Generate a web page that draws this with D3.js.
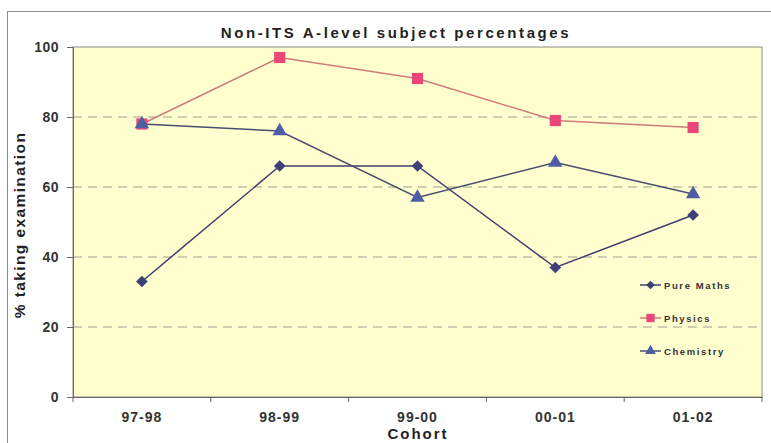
<!DOCTYPE html>
<html>
<head>
<meta charset="utf-8">
<script src="https://cdn.jsdelivr.net/npm/d3@7"></script>
<style>
  html, body { margin: 0; padding: 0; background: #fff; }
  svg { display: block; font-family: Arial, "Liberation Sans", sans-serif; }
</style>
</head>
<body>
<svg id="chart" width="771" height="443"></svg>
<script>
// Cohorts along the x axis
const cohorts = ["97-98", "98-99", "99-00", "00-01", "01-02"];
// Percentage of non-ITS students taking each A-level subject
const pureMaths = [33, 66, 66, 37, 52];
const physics = [78, 97, 91, 79, 77];
const chemistry = [78, 76, 57, 67, 58];
const yTicks = [0, 20, 40, 60, 80, 100];

const series = [
  { name: "Pure Maths", values: pureMaths, line: "#3f3f6e", fill: "#3f3f7a", symbol: d3.symbolSquare, size: 68, rotate: 45 },
  { name: "Physics", values: physics, line: "#cf7b78", fill: "#ea4778", symbol: d3.symbolSquare, size: 125, rotate: 0 },
  { name: "Chemistry", values: chemistry, line: "#4a4e72", fill: "#4f5da4", symbol: d3.symbolTriangle, size: 90, rotate: 0 }
];

const svg = d3.select("#chart");
const plot = { left: 73, right: 762, top: 47, bottom: 397 };

// Outer chart frame
svg.append("rect")
  .attr("x", 7.5).attr("y", 11.5)
  .attr("width", 775).attr("height", 450)
  .attr("fill", "#fff").attr("stroke", "#8a8a8a").attr("stroke-width", 1);

const x = d3.scaleBand().domain(cohorts).range([plot.left, plot.right]);
const y = d3.scaleLinear().domain([0, 100]).range([plot.bottom, plot.top]);

// Plot area
svg.append("rect")
  .attr("x", plot.left).attr("y", plot.top)
  .attr("width", plot.right - plot.left).attr("height", plot.bottom - plot.top)
  .attr("fill", "#fefecf").attr("stroke", "#8c8c8c").attr("stroke-width", 1);

// Dashed horizontal gridlines
svg.append("g").selectAll("line")
  .data(yTicks.filter(t => t > 0 && t < 100))
  .join("line")
  .attr("x1", plot.left).attr("x2", plot.right)
  .attr("y1", d => y(d)).attr("y2", d => y(d))
  .attr("stroke", "#a0a090").attr("stroke-width", 1)
  .attr("stroke-dasharray", "9,6");

// Y axis
const yAxis = svg.append("g")
  .attr("transform", `translate(${plot.left},0)`)
  .call(d3.axisLeft(y).tickValues(yTicks).tickSize(6).tickPadding(8));
yAxis.select(".domain").attr("stroke", "#666");
yAxis.selectAll(".tick line").attr("stroke", "#666");
yAxis.selectAll("text")
  .attr("font-size", 14).attr("font-weight", "bold").attr("fill", "#333")
  .attr("letter-spacing", "0.5px")
  .attr("font-family", "Arial, 'Liberation Sans', sans-serif");

// X axis with ticks at the band boundaries
const xAxis = svg.append("g")
  .attr("transform", `translate(0,${plot.bottom})`)
  .call(d3.axisBottom(x).tickSize(0).tickPadding(15));
xAxis.select(".domain").attr("stroke", "#666");
xAxis.selectAll("text")
  .attr("font-size", 14).attr("font-weight", "bold").attr("fill", "#333")
  .attr("letter-spacing", "1px")
  .attr("font-family", "Arial, 'Liberation Sans', sans-serif");
const bounds = cohorts.map(c => x(c)).concat([x.range()[1]]);
svg.append("g").selectAll("line")
  .data(bounds)
  .join("line")
  .attr("x1", d => d).attr("x2", d => d)
  .attr("y1", plot.bottom).attr("y2", plot.bottom + 5)
  .attr("stroke", "#666");

const cx = c => x(c) + x.bandwidth() / 2;
const line = d3.line().x((d, i) => cx(cohorts[i])).y(d => y(d));

// Series lines and markers
series.forEach(s => {
  svg.append("path")
    .datum(s.values)
    .attr("d", line)
    .attr("fill", "none")
    .attr("stroke", s.line)
    .attr("stroke-width", 1.5);
});
series.forEach(s => {
  svg.append("g").selectAll("path")
    .data(s.values)
    .join("path")
    .attr("transform", (d, i) => `translate(${cx(cohorts[i])},${y(d)}) rotate(${s.rotate})`)
    .attr("d", d3.symbol().type(s.symbol).size(s.size))
    .attr("fill", s.fill);
});

// Legend
const legend = svg.append("g").attr("transform", "translate(640,285)");
series.forEach((s, i) => {
  const g = legend.append("g").attr("transform", `translate(0,${i * 33})`);
  g.append("line").attr("x1", 0).attr("x2", 21).attr("y1", 0).attr("y2", 0)
    .attr("stroke", s.line).attr("stroke-width", 1.5);
  g.append("path").attr("transform", `translate(10.5,0) rotate(${s.rotate})`)
    .attr("d", d3.symbol().type(s.symbol).size(s.size * 0.55))
    .attr("fill", s.fill);
  g.append("text").attr("x", 24).attr("y", 4)
    .attr("font-size", 9.5).attr("font-weight", "bold").attr("fill", "#333")
    .attr("letter-spacing", "1.6px")
    .text(s.name);
});

// Titles
svg.append("text")
  .attr("x", 396).attr("y", 38)
  .attr("text-anchor", "middle")
  .attr("font-size", 15).attr("font-weight", "bold").attr("fill", "#222")
  .attr("letter-spacing", "2.6px")
  .text("Non-ITS A-level subject percentages");

svg.append("text")
  .attr("transform", "translate(25,225) rotate(-90)")
  .attr("text-anchor", "middle")
  .attr("font-size", 15.5).attr("font-weight", "bold").attr("fill", "#222")
  .attr("letter-spacing", "1.4px")
  .text("% taking examination");

svg.append("text")
  .attr("x", 418).attr("y", 439)
  .attr("text-anchor", "middle")
  .attr("font-size", 15).attr("font-weight", "bold").attr("fill", "#222")
  .attr("letter-spacing", "2px")
  .text("Cohort");
</script>
</body>
</html>
